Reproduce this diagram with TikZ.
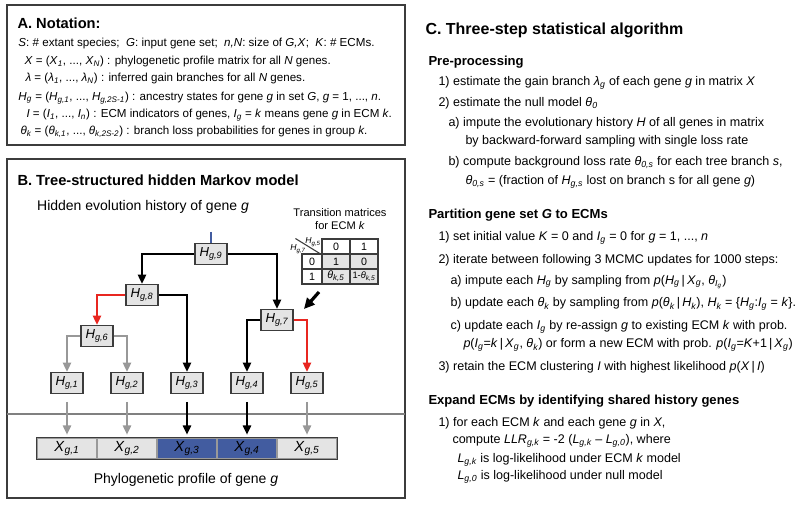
\documentclass[tikz,border=0pt]{standalone}
\usepackage{fontspec}
\setmainfont{Liberation Sans}
\usetikzlibrary{arrows.meta}

\newcommand{\sbs}[1]{\textsubscript{\itshape #1}}
\newcommand{\vb}{\,|\,}

\definecolor{edgered}{RGB}{232,38,32}
\definecolor{edgegray}{RGB}{152,152,152}
\definecolor{cellblue}{RGB}{66,92,160}
\definecolor{boxline}{RGB}{60,60,60}
\definecolor{cellgray}{RGB}{228,228,228}

\tikzset{every picture/.style={line width=0.75pt}}
\tikzset{
  ntxt/.style={anchor=west, inner sep=0pt, font=\fontsize{8.7}{10}\selectfont},
  ctxt/.style={anchor=west, inner sep=0pt, font=\fontsize{9.4}{11}\selectfont},
  paneltitle/.style={anchor=west, inner sep=0pt, font=\fontsize{11}{13}\selectfont\bfseries},
  subhead/.style={anchor=west, inner sep=0pt, font=\fontsize{9.8}{11}\selectfont\bfseries},
  hbox/.style={draw=boxline, fill=cellgray, line width=1pt, minimum width=24pt, minimum height=15.5pt, inner sep=0pt, font=\fontsize{9.8}{10}\selectfont},
  pcell/.style={draw=gray!80, line width=0.8pt, minimum width=45pt, minimum height=15.75pt, inner sep=0pt, font=\fontsize{11}{12}\selectfont},
  tcell/.style={draw=boxline, line width=0.8pt, minimum height=11.25pt, inner sep=0pt, font=\fontsize{8}{9}\selectfont},
  blkarr/.style={draw=black, line width=2pt, -{Triangle[length=7pt,width=6pt]}},
  redarr/.style={draw=edgered, line width=1.7pt, -{Triangle[length=7pt,width=6pt]}},
  grayarr/.style={draw=edgegray, line width=1.7pt, -{Triangle[length=7pt,width=6pt]}}
}

\begin{document}
\begin{tikzpicture}[x=0.75pt,y=0.75pt,yscale=-1,xscale=1]
\useasboundingbox (0,0) rectangle (800,505);

% Panel frames
\draw [draw=boxline, line width=1.5pt] (7,5) rectangle (405,145) ;
\draw [draw=boxline, line width=1.5pt] (7,159) rectangle (405,498) ;
\draw [draw=gray, line width=0.8pt] (7,414) -- (405,414) ;

% A. Notation
\node [paneltitle] (atitle) at (17,23) {A. Notation:};
\node [ntxt] (a1) at (18,44) {\textit{S}: \# extant species;\ \ \textit{G}: input gene set;\ \ \textit{n,N}: size of \textit{G,X};\ \ \textit{K}: \# ECMs.};
\node [ntxt] (a2) at (24,62) {\textit{X} = (\textit{X}\sbs{1}, ..., \textit{X}\sbs{N}) : phylogenetic profile matrix for all \textit{N} genes.};
\node [ntxt] (a3) at (25,79) {\textit{λ} = (\textit{λ}\sbs{1}, ..., \textit{λ}\sbs{N}) : inferred gain branches for all \textit{N} genes.};
\node [ntxt] (a4) at (18,98) {\textit{H}\sbs{g} = (\textit{H}\sbs{g,1}, ..., \textit{H}\sbs{g,2S-1}) : ancestry states for gene \textit{g} in set \textit{G}, \textit{g} = 1, ..., \textit{n}.};
\node [ntxt] (a5) at (26,115) {\textit{I} = (\textit{I}\sbs{1}, ..., \textit{I}\sbs{n}) : ECM indicators of genes, \textit{I}\sbs{g} = \textit{k} means gene \textit{g} in ECM \textit{k}.};
\node [ntxt] (a6) at (20,132) {\textit{θ}\sbs{k} = (\textit{θ}\sbs{k,1}, ..., \textit{θ}\sbs{k,2S-2}) : branch loss probabilities for genes in group \textit{k}.};

% B. Tree model
\node [paneltitle] (btitle) at (17,180) {B. Tree-structured hidden Markov model};
\node [anchor=center, inner sep=0pt, font=\fontsize{10.5}{12}\selectfont] (hidden) at (143,207) {Hidden evolution history of gene \textit{g}};
\node [anchor=center, inner sep=0pt, font=\fontsize{8.3}{10}\selectfont] (tmtitle) at (340,213) {Transition matrices};
\node [anchor=center, inner sep=0pt, font=\fontsize{8.3}{10}\selectfont] (tmsub) at (340,226) {for ECM \textit{k}};

% Tree nodes
\node [hbox] (h9) at (211,254) {\textit{H}\sbs{g,9}};
\node [hbox] (h8) at (142,295) {\textit{H}\sbs{g,8}};
\node [hbox] (h7) at (277,320) {\textit{H}\sbs{g,7}};
\node [hbox] (h6) at (97,336) {\textit{H}\sbs{g,6}};
\node [hbox] (h1) at (67,383) {\textit{H}\sbs{g,1}};
\node [hbox] (h2) at (127,383) {\textit{H}\sbs{g,2}};
\node [hbox] (h3) at (187,383) {\textit{H}\sbs{g,3}};
\node [hbox] (h4) at (247,383) {\textit{H}\sbs{g,4}};
\node [hbox] (h5) at (307,383) {\textit{H}\sbs{g,5}};

% Root stub
\coordinate (root) at (211,232);
\draw [draw=cellblue, line width=2pt] (root) -- (h9.north) ;

% Tree branches
\draw [blkarr] (h9.west) -| (h8.north) ;
\draw [blkarr] (h9.east) -| (h7.north) ;
\draw [redarr] (h8.west) -| (h6.north) ;
\draw [blkarr] (h8.east) -| (h3.north) ;
\draw [blkarr] (h7.west) -| (h4.north) ;
\draw [redarr] (h7.east) -| (h5.north) ;
\draw [grayarr] (h6.west) -| (h1.north) ;
\draw [grayarr] (h6.east) -| (h2.north) ;

% Phylogenetic profile
\node [pcell, fill=cellgray] (x1) at (67,448.5) {\textit{X}\sbs{g,1}};
\node [pcell, fill=cellgray] (x2) at (127,448.5) {\textit{X}\sbs{g,2}};
\node [pcell, fill=cellblue] (x3) at (187,448.5) {\textit{X}\sbs{g,3}};
\node [pcell, fill=cellblue] (x4) at (247,448.5) {\textit{X}\sbs{g,4}};
\node [pcell, fill=cellgray] (x5) at (307,448.5) {\textit{X}\sbs{g,5}};
\draw [draw=boxline, line width=1pt] (x1.north west) rectangle (x5.south east) ;
\node [anchor=center, inner sep=0pt, font=\fontsize{10.5}{12}\selectfont] (profile) at (186,480) {Phylogenetic profile of gene \textit{g}};

% Emission arrows
\draw [grayarr, shorten <=6pt, shorten >=2pt] (h1.south) -- (x1.north) ;
\draw [grayarr, shorten <=6pt, shorten >=2pt] (h2.south) -- (x2.north) ;
\draw [blkarr, shorten <=6pt, shorten >=2pt] (h3.south) -- (x3.north) ;
\draw [blkarr, shorten <=6pt, shorten >=2pt] (h4.south) -- (x4.north) ;
\draw [grayarr, shorten <=6pt, shorten >=2pt] (h5.south) -- (x5.north) ;

% Transition matrix
\node [tcell, fill=white, minimum width=21pt] (t01) at (336,246.5) {0};
\node [tcell, fill=white, minimum width=21pt] (t02) at (364,246.5) {1};
\node [tcell, fill=white, minimum width=15pt] (t10) at (312,261.5) {0};
\node [tcell, fill=cellgray, minimum width=21pt] (t11) at (336,261.5) {1};
\node [tcell, fill=cellgray, minimum width=21pt] (t12) at (364,261.5) {0};
\node [tcell, fill=white, minimum width=15pt] (t20) at (312,276.5) {1};
\node [tcell, fill=cellgray, minimum width=21pt] (t21) at (336,276.5) {\textit{θ}\sbs{k,5}};
\node [tcell, fill=cellgray, minimum width=21pt, font=\fontsize{7}{8}\selectfont] (t22) at (364,276.5) {1-\textit{θ}\sbs{k,5}};
\draw [draw=boxline, line width=0.8pt] (t01.south west) -- ++(-26,-16) ;
\node [anchor=center, inner sep=0pt, font=\fontsize{6.5}{7}\selectfont] (lh5) at (313,242) {\textit{H}\sbs{g,5}};
\node [anchor=center, inner sep=0pt, font=\fontsize{6.5}{7}\selectfont] (lh7) at (298,249) {\textit{H}\sbs{g,7}};

% Pointer to branch 5
\coordinate (tmtail) at (319,292);
\coordinate (tmhead) at (304,309);
\draw [draw=black, line width=2.4pt, -{Triangle[length=8pt,width=7.5pt]}] (tmtail) -- (tmhead) ;

% C. Algorithm
\node [paneltitle, font=\fontsize{12}{14}\selectfont\bfseries] (ctitle) at (425,30) {C. Three-step statistical algorithm};
\node [subhead] (s1) at (428,62) {Pre-processing};
\node [ctxt] (c1) at (438,83) {1) estimate the gain branch \textit{λ}\sbs{g} of each gene \textit{g} in matrix \textit{X}};
\node [ctxt] (c2) at (438,103) {2) estimate the null model \textit{θ}\sbs{0}};
\node [ctxt] (c3) at (448,123) {a) impute the evolutionary history \textit{H} of all genes in matrix};
\node [ctxt] (c4) at (465,141) {by backward-forward sampling with single loss rate};
\node [ctxt] (c5) at (448,163) {b) compute background loss rate \textit{θ}\sbs{0,s} for each tree branch \textit{s},};
\node [ctxt] (c6) at (465,182) {\textit{θ}\sbs{0,s} = (fraction of \textit{H}\sbs{g,s} lost on branch s for all gene \textit{g})};

\node [subhead] (s2) at (428,215) {Partition gene set \textit{G} to ECMs};
\node [ctxt] (c7) at (438,238) {1) set initial value \textit{K} = 0 and \textit{I}\sbs{g} = 0 for \textit{g} = 1, ..., \textit{n}};
\node [ctxt] (c8) at (438,260) {2) iterate between following 3 MCMC updates for 1000 steps:};
\node [ctxt] (c9) at (450,282) {a) impute each \textit{H}\sbs{g} by sampling from \textit{p}(\textit{H}\sbs{g}\vb\textit{X}\sbs{g}, \textit{θ}\sbs{I\sbs{g}})};
\node [ctxt] (c10) at (450,304) {b) update each \textit{θ}\sbs{k} by sampling from \textit{p}(\textit{θ}\sbs{k}\vb\textit{H}\sbs{k}), \textit{H}\sbs{k} = \{\textit{H}\sbs{g}:\textit{I}\sbs{g} = \textit{k}\}.};
\node [ctxt] (c11) at (450,327) {c) update each \textit{I}\sbs{g} by re-assign \textit{g} to existing ECM \textit{k} with prob.};
\node [ctxt] (c12) at (463,345) {\textit{p}(\textit{I}\sbs{g}=\textit{k}\vb\textit{X}\sbs{g}, \textit{θ}\sbs{k}) or form a new ECM with prob. \textit{p}(\textit{I}\sbs{g}=\textit{K}+1\vb\textit{X}\sbs{g})};
\node [ctxt] (c13) at (438,367) {3) retain the ECM clustering \textit{I} with highest likelihood \textit{p}(\textit{X}\vb\textit{I})};

\node [subhead] (s3) at (428,401) {Expand ECMs by identifying shared history genes};
\node [ctxt] (c14) at (438,423) {1) for each ECM \textit{k} and each gene \textit{g} in \textit{X},};
\node [ctxt] (c15) at (452,441) {compute \textit{LLR}\sbs{g,k} = -2 (\textit{L}\sbs{g,k} – \textit{L}\sbs{g,0}), where};
\node [ctxt] (c16) at (457,460) {\textit{L}\sbs{g,k} is log-likelihood under ECM \textit{k} model};
\node [ctxt] (c17) at (457,477) {\textit{L}\sbs{g,0} is log-likelihood under null model};

\end{tikzpicture}
\end{document}
